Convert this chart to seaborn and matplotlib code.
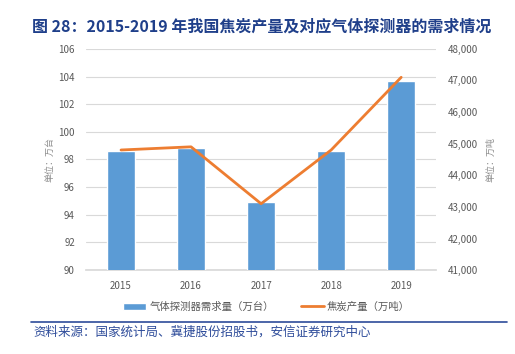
import numpy as np
import pandas as pd
import matplotlib
matplotlib.use("Agg")
import matplotlib.pyplot as plt
import seaborn as sns
from matplotlib.lines import Line2D
from matplotlib.patches import Patch

years = ["2015", "2016", "2017", "2018", "2019"]
detector_demand = [98.6, 98.8, 94.9, 98.6, 103.7]   # 万台
coke_output = [44800, 44900, 43100, 44800, 47100]   # 万吨

title = "图 28：2015-2019 年我国焦炭产量及对应气体探测器的需求情况"
source = "资料来源：国家统计局、冀捷股份招股书，安信证券研究中心"
bar_label = "气体探测器需求量（万台）"
line_label = "焦炭产量（万吨）"

sns.set_theme(style="white")
plt.rcParams['font.family'] = ['Noto Sans CJK SC', 'DejaVu Sans']

df = pd.DataFrame({"year": years, "demand": detector_demand, "coke": coke_output})

fig = plt.figure(figsize=(5.15, 3.54), dpi=100)
ax = fig.add_axes([0.167, 0.237, 0.68, 0.625])

sns.barplot(data=df, x="year", y="demand", color="#5B9BD5", saturation=1,
            width=0.4, ax=ax, zorder=3)
ax.set_ylim(90, 106)
ax.set_yticks(np.arange(90, 107, 2))
ax.set_xlim(-0.5, 4.5)
ax.yaxis.grid(True, color="#D9D9D9", linewidth=0.8, zorder=0)
ax.set_axisbelow(True)
for s in ax.spines.values():
    s.set_visible(False)
ax.spines["bottom"].set_visible(True)
ax.spines["bottom"].set_color("#D9D9D9")
ax.tick_params(axis="both", length=0, labelsize=7, labelcolor="#595959", pad=8)
ax.set_xlabel("")
ax.set_ylabel("单位：万台", fontsize=6.5, color="#8C8C8C", labelpad=3)

ax2 = ax.twinx()
sns.lineplot(x=np.arange(len(years)), y=coke_output, color="#ED7D31",
             linewidth=2, ax=ax2, zorder=4)
ax2.set_ylim(41000, 48000)
ax2.set_yticks(np.arange(41000, 48001, 1000))
ax2.set_yticklabels([f"{v:,}" for v in range(41000, 48001, 1000)])
for s in ax2.spines.values():
    s.set_visible(False)
ax2.tick_params(axis="y", length=0, labelsize=7, labelcolor="#595959", pad=8)
ax2.set_ylabel("单位：万吨", fontsize=6.5, color="#8C8C8C", labelpad=6)

handles = [Patch(facecolor="#5B9BD5", label=bar_label),
           Line2D([0], [0], color="#ED7D31", linewidth=2, label=line_label)]
fig.legend(handles=handles, loc="center", bbox_to_anchor=(0.518, 0.133), ncol=2,
           frameon=False, fontsize=7.5, labelcolor="#595959",
           handlelength=2.2, handletextpad=0.3, columnspacing=2.6)

fig.text(0.063, 0.925, title, fontsize=11.5, fontweight="bold", color="#1F3F8A",
         va="center", ha="left")
fig.add_artist(Line2D([0.06, 0.984], [0.09, 0.09], color="#2E4C9A", linewidth=1.2))
fig.text(0.065, 0.063, source, fontsize=9, color="#2E4C9A", style="italic",
         va="center", ha="left")

fig.savefig("out.png", dpi=100)
